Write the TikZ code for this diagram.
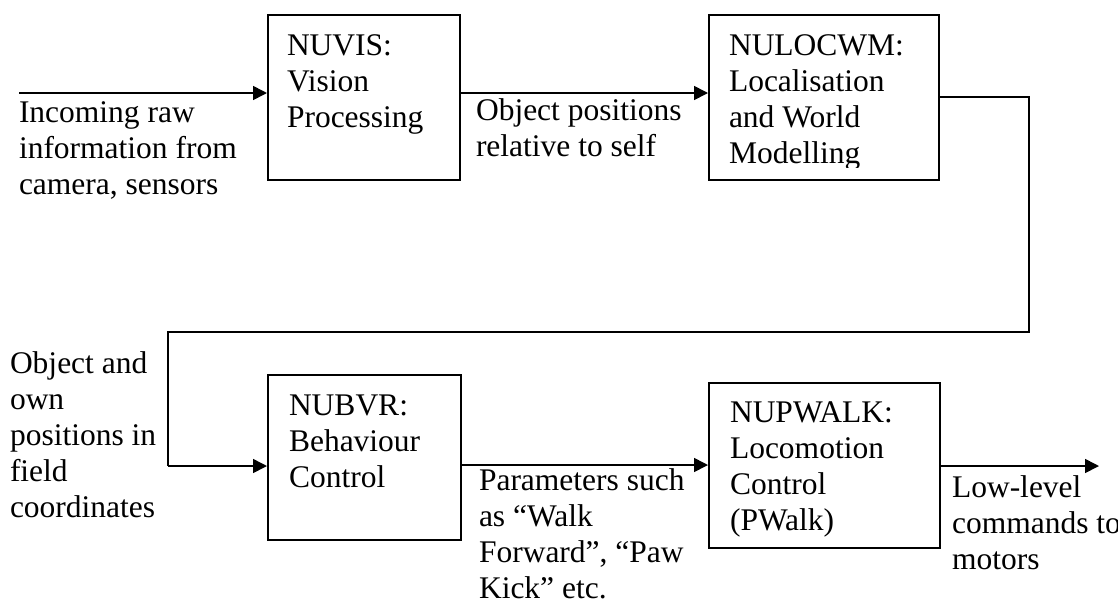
\documentclass[tikz,border=0pt]{standalone}
\usepackage{fontspec}
\setmainfont{Liberation Serif}
\usetikzlibrary{arrows.meta,calc}

\newcommand{\lns}[1]{\begin{tabular}[t]{@{}l@{}}#1\end{tabular}}

\tikzset{
  x=1pt, y=-1pt,
  every node/.style={font=\fontsize{31.5}{36}\selectfont},
  modbox/.style={draw, line width=1.8pt, rectangle, inner sep=0pt, anchor=north west},
  txt/.style={anchor=base west, inner sep=0pt, outer sep=0pt},
  arr/.style={line width=1.6pt, -{Triangle[length=14pt, width=14pt]}},
  wire/.style={line width=1.6pt}
}

\begin{document}
\begin{tikzpicture}
\useasboundingbox (0,0) rectangle (1118,603);

% processing modules
\node[modbox, minimum width=192pt, minimum height=165pt] (vis) at (267,14) {};
\node[modbox, minimum width=230pt, minimum height=165pt] (loc) at (708,14) {};
\node[modbox, minimum width=193pt, minimum height=165pt] (bvr) at (267,374) {};
\node[modbox, minimum width=231pt, minimum height=165pt] (pw) at (708,382) {};

% module captions
\node[txt] (visT) at (287,55) {\lns{NUVIS:\\Vision\\Processing}};
\begin{scope}
  \clip (708,14) rectangle (938,167);
  \node[txt] (locT) at (729,55) {\lns{NULOCWM:\\Localisation\\and World\\Modelling}};
\end{scope}
\node[txt] (bvrT) at (289,415) {\lns{NUBVR:\\Behaviour\\Control}};
\node[txt] (pwT) at (730,422) {\lns{NUPWALK:\\Locomotion\\Control\\(PWalk)}};

% data flow labels
\node[txt] (inL) at (19,122) {\lns{Incoming raw\\information from\\camera, sensors}};
\node[txt] (objL) at (476,120) {\lns{Object positions\\relative to self}};
\node[txt] (fldL) at (10,373) {\lns{Object and\\own\\positions in\\field\\coordinates}};
\node[txt] (parL) at (479,490) {\lns{Parameters such\\as “Walk\\Forward”, “Paw\\Kick” etc.}};
\node[txt] (lowL) at (952,497) {\lns{Low-level\\commands to\\motors}};

% connector end points
\coordinate (src) at (19,93);
\coordinate (r1) at (1029,97);
\coordinate (r2) at (1029,332);
\coordinate (l1) at (168,332);
\coordinate (l2) at (168,466);
\coordinate (out) at (1099,466);
\coordinate (mid) at (0,465);

% connectors
\draw[arr] (src) -- (src -| vis.west);
\draw[arr] (vis.east |- src) -- (loc.west |- src);
\draw[wire] (loc.east |- r1) -- (r1) -- (r2) -- (l1) -- (l2);
\draw[arr] (l2) -- (l2 -| bvr.west);
\draw[arr] (bvr.east |- mid) -- (pw.west |- mid);
\draw[arr] (pw.east |- out) -- (out);
\end{tikzpicture}
\end{document}
